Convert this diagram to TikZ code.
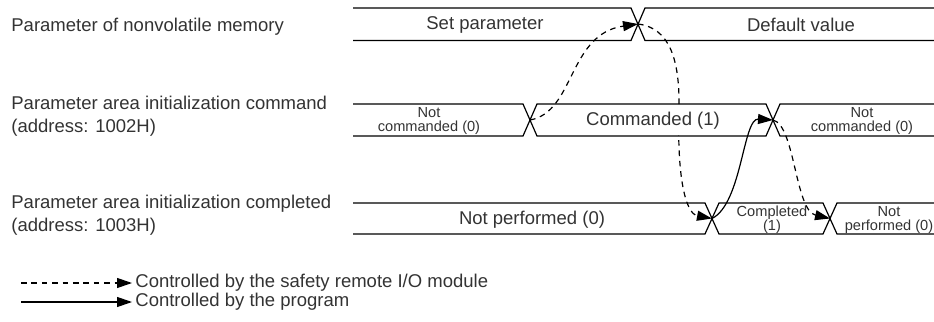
\documentclass[tikz,border=0pt]{standalone}
\usepackage{fontspec}
\setmainfont{Liberation Sans}
\usetikzlibrary{arrows.meta}

\begin{document}
\begin{tikzpicture}[x=0.5pt, y=-0.5pt,
  bus/.style={draw=black, line width=0.6pt},
  lbl/.style={text=black!80, font=\fontsize{9.25}{11.5}\selectfont, inner sep=0pt, align=left},
  val/.style={text=black!80, font=\fontsize{9.25}{11}\selectfont, inner sep=0pt},
  smallval/.style={text=black!80, font=\fontsize{7.3}{7}\selectfont, inner sep=0pt, align=center},
  safetyarr/.style={draw=black, line width=0.6pt, dash pattern=on 2.8pt off 2.4pt, -{Triangle[length=7.5pt, width=5pt]}},
  progarr/.style={draw=black, line width=0.6pt, -{Triangle[length=7.5pt, width=5pt]}}
]
  \useasboundingbox (0,0) rectangle (934,322);
  % signal rows
  \draw[bus] (353,8) -- (631,8) -- (645,40.5) -- (934,40.5);
  \draw[bus] (353,40.5) -- (631,40.5) -- (645,8) -- (934,8);
  \draw[bus] (353,104) -- (523,104) -- (537,136) -- (766,136) -- (780,104) -- (934,104);
  \draw[bus] (353,136) -- (523,136) -- (537,104) -- (766,104) -- (780,136) -- (934,136);
  \draw[bus] (353,203) -- (705,203) -- (719,234) -- (823,234) -- (837,203) -- (934,203);
  \draw[bus] (353,234) -- (705,234) -- (719,203) -- (823,203) -- (837,234) -- (934,234);
  % crossing points
  \coordinate (m1) at (638,24);
  \coordinate (c1) at (530,120);
  \coordinate (c2) at (773,120);
  \coordinate (d1) at (712,218.5);
  \coordinate (d2) at (830,218.5);
  \coordinate (mdown) at (679,110);
  % handshake
  \draw[safetyarr] (c1) .. controls +(45,-8) and +(-70,10) .. (m1);
  \draw[safetyarr] (m1) .. controls +(32,4) and +(1,-50) .. (mdown) .. controls +(-2,65) and +(-27,-5) .. (d1);
  \draw[progarr] (d1) .. controls +(30,-15) and +(-30,-2) .. (c2);
  \draw[safetyarr] (c2) .. controls +(22,5) and +(-35,-8) .. (d2);
  % labels
  \node[lbl, anchor=west] (nvmem) at (11,27)    {Parameter of nonvolatile memory};
  \node[lbl, anchor=west] (initcmd) at (11,116.5) {Parameter area initialization command\\(address: 1002H)};
  \node[lbl, anchor=west] (initdone) at (11,215) {Parameter area initialization completed\\(address: 1003H)};
  % values
  \node[val] (setpar) at (485,25)  {Set parameter};
  \node[val] (defval) at (801,25)  {Default value};
  \node[smallval] (ncmd1) at (429,120.5) {Not\\commanded (0)};
  \node[val, fill=white, inner xsep=1pt, minimum height=14pt] (cmd) at (653,121) {Commanded (1)};
  \node[smallval] (ncmd2) at (862,120.5) {Not\\commanded (0)};
  \node[val] (nperf1) at (532,220) {Not performed (0)};
  \node[smallval] (compl) at (772,220) {Completed\\(1)};
  \node[smallval] (nperf2) at (889,220) {Not\\performed (0)};
  % legend
  \coordinate (ls1) at (21,283);  \coordinate (le1) at (132,283);
  \coordinate (ls2) at (21,302);  \coordinate (le2) at (132,302);
  \draw[safetyarr] (ls1) -- (le1);
  \draw[progarr] (ls2) -- (le2);
  \node[lbl, anchor=west] (lgsafe) at (135,283) {Controlled by the safety remote I/O module};
  \node[lbl, anchor=west] (lgprog) at (135,302) {Controlled by the program};
\end{tikzpicture}
\end{document}
